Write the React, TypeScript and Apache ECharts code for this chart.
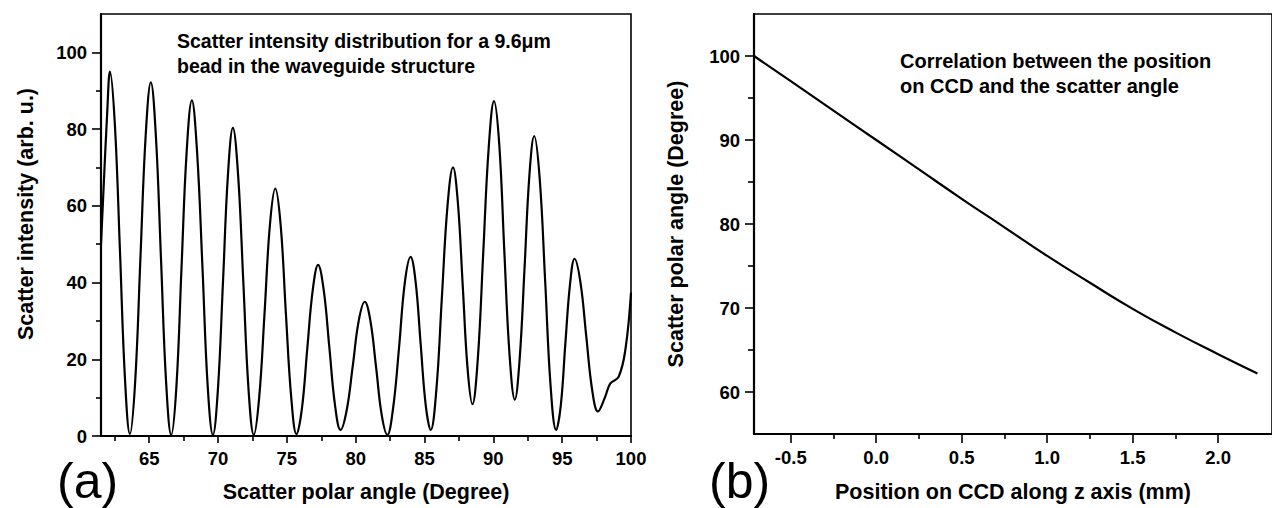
import React, { useEffect, useRef } from "react";
import * as echarts from "echarts";

// Panel (a): scatter intensity vs scatter polar angle
const anglesA = [
  61.5, 61.96, 62.15, 62.51, 62.88, 63.24, 63.6,
  63.98, 64.36, 64.74, 65.12, 65.49, 65.86, 66.23, 66.6,
  66.98, 67.35, 67.72, 68.1, 68.48, 68.87, 69.25, 69.63,
  69.99, 70.36, 70.72, 71.08, 71.46, 71.84, 72.22, 72.6,
  72.99, 73.38, 73.77, 74.16, 74.55, 74.93, 75.32, 75.7,
  76.09, 76.49, 76.88, 77.27, 77.68, 78.09, 78.5, 78.9,
  79.34, 79.78, 80.22, 80.66, 81.07, 81.48, 81.89, 82.3,
  82.72, 83.15, 83.57, 83.99, 84.36, 84.72, 85.09, 85.45,
  85.86, 86.26, 86.67, 87.07, 87.42, 87.78, 88.13, 88.48,
  88.87, 89.27, 89.66, 90.05, 90.43, 90.8, 91.18, 91.56,
  91.91, 92.27, 92.62, 92.97, 93.37, 93.77, 94.16, 94.56,
  94.9, 95.23, 95.57, 95.9, 96.33, 96.75, 97.18, 97.6,
  98.1, 98.5, 99.1, 99.6, 100,
];
const intensityA = [
  50, 85, 95.0, 81, 48, 15, 0.5,
  14, 46, 78, 92.2, 78, 46, 14, 0.3,
  13, 44, 74, 87.5, 74, 44, 13, 0.3,
  12, 40, 68, 80.3, 68, 40, 12, 0.3,
  10, 32, 55, 64.5, 55, 32, 10, 0.5,
  7, 23, 38, 44.6, 38, 23, 8, 1.6,
  6.6, 18, 30, 35.0, 30, 18, 5.5, 0.3,
  7.3, 23, 40, 46.7, 40, 24, 8, 1.6,
  12, 36, 60, 70.0, 61, 39, 17.5, 8.3,
  20, 48, 75, 87.3, 76, 48, 21, 9.5,
  20, 44, 68, 78.2, 67, 40, 13, 1.6,
  8, 24, 39.5, 46.2, 40, 26, 12, 6.4,
  10, 13.7, 15.4, 22.7, 37.4,
];
const xTicksA = [65, 70, 75, 80, 85, 90, 95, 100];
const xMinorA = [62.5, 67.5, 72.5, 77.5, 82.5, 87.5, 92.5, 97.5];
const yTicksA = [0, 20, 40, 60, 80, 100];
const yMinorA = [10, 30, 50, 70, 90];

// Panel (b): scatter polar angle vs position on CCD
const positionsB = [-0.715, -0.5, -0.25, 0, 0.25, 0.5, 0.75, 1.0, 1.25, 1.5, 1.75, 2.0, 2.23];
const anglesB = [100.0, 97.0, 93.5, 90.0, 86.5, 83.0, 79.6, 76.2, 73.0, 69.9, 67.1, 64.5, 62.2];
const xTicksB = [-0.5, 0, 0.5, 1.0, 1.5, 2.0];
const xMinorB = [-0.25, 0.25, 0.75, 1.25, 1.75];
const yTicksB = [60, 70, 80, 90, 100];
const yMinorB = [65, 75, 85, 95];

const noteA = "Scatter intensity distribution for a 9.6\u03bcm\nbead in the waveguide structure";
const noteB = "Correlation between the position\non CCD and the scatter angle";

const FONT = '"Liberation Sans", Arial, Helvetica, sans-serif';
const BLACK = "#000";

const labelStyle = (margin: number, customValues: number[], fmt?: (v: number) => string) => ({
  show: true,
  customValues,
  margin,
  color: BLACK,
  fontFamily: FONT,
  fontWeight: "bold" as const,
  fontSize: 18.5,
  formatter: fmt,
});

const nameStyle = (padding?: number[]) => ({
  color: BLACK,
  fontFamily: FONT,
  fontWeight: "bold" as const,
  fontSize: 21.5,
  padding,
});

function majorAxis(opts: any) {
  return {
    type: "value",
    gridIndex: opts.grid,
    min: opts.min,
    max: opts.max,
    position: opts.position,
    axisLine: { show: true, onZero: false, lineStyle: { color: BLACK, width: 2.2 } },
    axisTick: { show: true, inside: false, customValues: opts.ticks, length: opts.tickLen, lineStyle: { color: BLACK, width: 1.6 } },
    axisLabel: labelStyle(opts.margin, opts.ticks, opts.fmt),
    splitLine: { show: false },
    name: opts.name,
    nameLocation: "middle",
    nameGap: opts.nameGap,
    nameTextStyle: nameStyle(opts.namePadding),
  };
}

function minorAxis(opts: any) {
  return {
    type: "value",
    gridIndex: opts.grid,
    min: opts.min,
    max: opts.max,
    position: opts.position,
    axisLine: { show: false, onZero: false },
    axisTick: { show: true, inside: false, customValues: opts.ticks, length: opts.tickLen, lineStyle: { color: BLACK, width: 1.6 } },
    axisLabel: { show: false },
    splitLine: { show: false },
  };
}

const option: any = {
  animation: false,
  backgroundColor: "#fff",
  grid: [
    { left: 101, right: 641, top: 14, bottom: 70, show: true, borderColor: BLACK, borderWidth: 1.6, backgroundColor: "transparent" },
    { left: 754, right: -14, top: 14, bottom: 68, show: true, borderColor: BLACK, borderWidth: 1.6, backgroundColor: "transparent" },
  ],
  xAxis: [
    majorAxis({ grid: 0, min: 61.5, max: 100, position: "bottom", ticks: xTicksA, tickLen: 7, margin: 13, name: "Scatter polar angle (Degree)", nameGap: 45 }),
    minorAxis({ grid: 0, min: 61.5, max: 100, position: "bottom", ticks: xMinorA, tickLen: 5 }),
    majorAxis({ grid: 1, min: -0.715, max: 2.315, position: "bottom", ticks: xTicksB, tickLen: 9, margin: 14, fmt: (v: number) => v.toFixed(1), name: "Position on CCD along z axis (mm)", nameGap: 47 }),
    minorAxis({ grid: 1, min: -0.715, max: 2.315, position: "bottom", ticks: xMinorB, tickLen: 5 }),
  ],
  yAxis: [
    majorAxis({ grid: 0, min: 0, max: 110, position: "left", ticks: yTicksA, tickLen: 9, margin: 14, name: "Scatter intensity (arb. u.)", nameGap: 64, namePadding: [0, 0, 0, 22] }),
    minorAxis({ grid: 0, min: 0, max: 110, position: "left", ticks: yMinorA, tickLen: 5 }),
    majorAxis({ grid: 1, min: 55, max: 105, position: "left", ticks: yTicksB, tickLen: 9, margin: 14, name: "Scatter polar angle (Degree)", nameGap: 67 }),
    minorAxis({ grid: 1, min: 55, max: 105, position: "left", ticks: yMinorB, tickLen: 6 }),
  ],
  series: [
    {
      type: "line",
      xAxisIndex: 0,
      yAxisIndex: 0,
      data: anglesA.map((x, i) => [x, intensityA[i]]),
      showSymbol: false,
      smooth: 0.4,
      lineStyle: { color: BLACK, width: 2.2 },
    },
    {
      type: "line",
      xAxisIndex: 2,
      yAxisIndex: 2,
      data: positionsB.map((x, i) => [x, anglesB[i]]),
      showSymbol: false,
      smooth: 0.5,
      lineStyle: { color: BLACK, width: 2.2 },
    },
  ],
  graphic: [
    { type: "text", left: 177, top: 28, style: { text: noteA, font: `bold 19.5px ${FONT}`, fill: BLACK, lineHeight: 25 } },
    { type: "text", left: 900, top: 48, style: { text: noteB, font: `bold 20px ${FONT}`, fill: BLACK, lineHeight: 25.5 } },
    { type: "text", left: 57, top: 456, style: { text: "(a)", font: `50px ${FONT}`, fill: BLACK } },
    { type: "text", left: 709, top: 456, style: { text: "(b)", font: `50px ${FONT}`, fill: BLACK } },
  ],
};

export default function App() {
  const ref = useRef<HTMLDivElement>(null);
  useEffect(() => {
    const chart = echarts.init(ref.current!, null, { renderer: "svg" });
    chart.setOption(option);
    return () => chart.dispose();
  }, []);
  return (
    <div
      ref={ref}
      style={{ position: "fixed", left: 0, top: 0, width: 1272, height: 508, background: "#fff" }}
    />
  );
}
